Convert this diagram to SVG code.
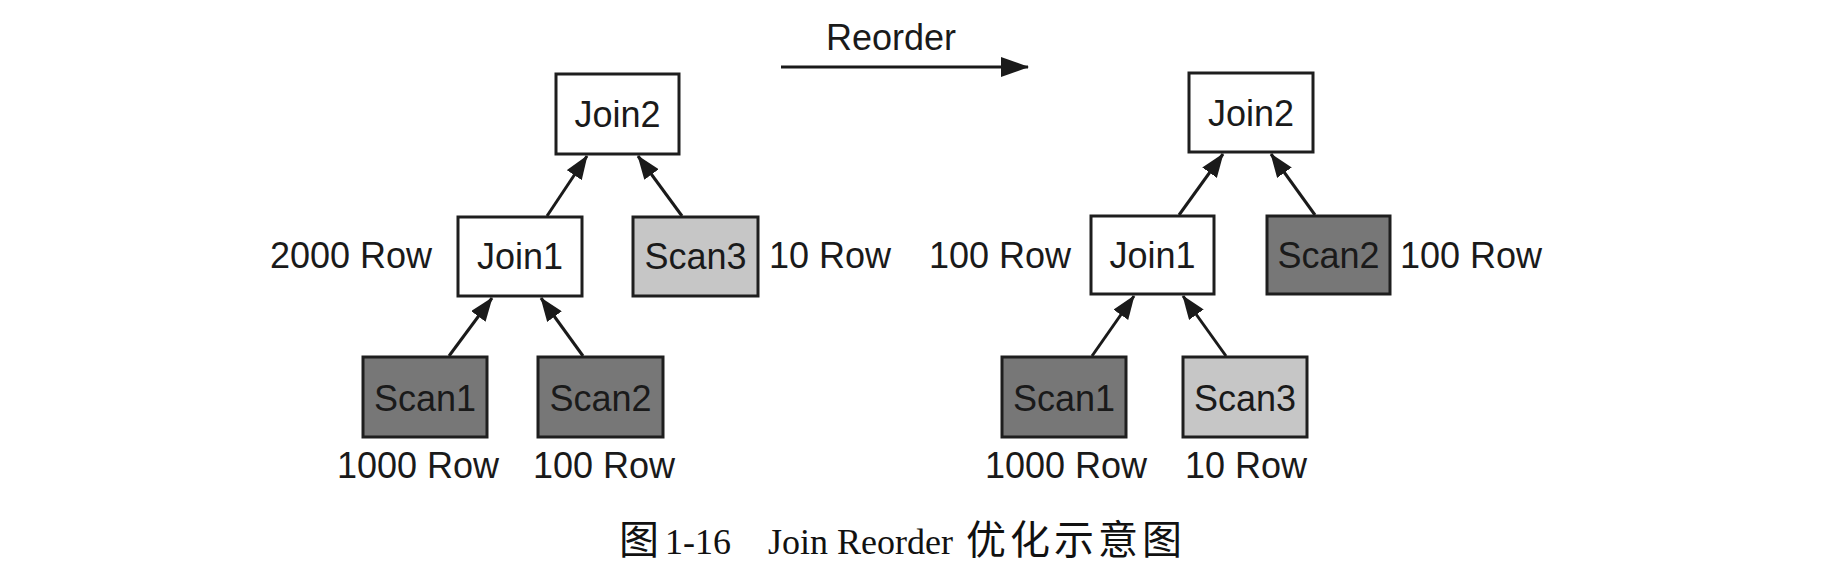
<svg xmlns="http://www.w3.org/2000/svg" width="1842" height="578" viewBox="0 0 1842 578">
<style>
.box{stroke:#1e1e1e;stroke-width:3}
.w{fill:#ffffff}
.d{fill:#777777}
.l{fill:#c6c6c6}
.t{font-family:"Liberation Sans",Arial,sans-serif;font-size:36px;fill:#1a1a1a}
.c{text-anchor:middle}
.e{stroke:#1a1a1a;stroke-width:3;fill:none;marker-end:url(#ah)}
.cap{font-family:"Liberation Serif","Noto Sans CJK SC",serif;font-size:36px;fill:#111}
.cjk{font-family:"Noto Sans CJK SC",sans-serif;font-size:40px}
</style>
<defs>
<marker id="ah" viewBox="0 0 24 18" refX="23" refY="9" markerWidth="24" markerHeight="18" markerUnits="userSpaceOnUse" orient="auto">
<path d="M0,0 L24,9 L0,18 z" fill="#1a1a1a"/>
</marker>
<marker id="ahr" viewBox="0 0 28 20" refX="27" refY="10" markerWidth="28" markerHeight="20" markerUnits="userSpaceOnUse" orient="auto">
<path d="M0,0 L28,10 L0,20 z" fill="#1a1a1a"/>
</marker>
</defs>
<rect width="1842" height="578" fill="#ffffff"/>

<g id="connectors">
<line class="e" x1="547" y1="216" x2="587" y2="156"/>
<line class="e" x1="682" y1="216" x2="638" y2="156"/>
<line class="e" x1="449" y1="356" x2="492" y2="298"/>
<line class="e" x1="583" y1="356" x2="541" y2="298"/>
<line class="e" x1="1179" y1="215" x2="1223" y2="154"/>
<line class="e" x1="1315" y1="215" x2="1271" y2="154"/>
<line class="e" x1="1092" y1="356" x2="1134" y2="296"/>
<line class="e" x1="1226" y1="356" x2="1183" y2="296"/>
<line x1="781" y1="67" x2="1028" y2="67" stroke="#1a1a1a" stroke-width="3" marker-end="url(#ahr)"/>
</g>

<text class="t" x="826" y="50" font-size="38">Reorder</text>

<g id="L-Join2"><rect class="box w" x="556" y="74" width="123" height="80"/><text class="t c" x="617.5" y="127">Join2</text></g>
<g id="L-Join1"><rect class="box w" x="458" y="217" width="124" height="79"/><text class="t c" x="520" y="269">Join1</text></g>
<g id="L-Scan3"><rect class="box l" x="633" y="217" width="125" height="79"/><text class="t c" x="695.5" y="269">Scan3</text></g>
<g id="L-Scan1"><rect class="box d" x="363" y="357" width="124" height="80"/><text class="t c" x="425" y="411">Scan1</text></g>
<g id="L-Scan2"><rect class="box d" x="538" y="357" width="125" height="80"/><text class="t c" x="600.5" y="411">Scan2</text></g>
<text class="t" x="270" y="268">2000 Row</text>
<text class="t" x="769" y="268">10 Row</text>
<text class="t" x="337" y="478">1000 Row</text>
<text class="t" x="533" y="478">100 Row</text>

<g id="R-Join2"><rect class="box w" x="1189" y="73" width="124" height="79"/><text class="t c" x="1251" y="126">Join2</text></g>
<g id="R-Join1"><rect class="box w" x="1091" y="216" width="123" height="78"/><text class="t c" x="1152.5" y="268">Join1</text></g>
<g id="R-Scan2"><rect class="box d" x="1267" y="216" width="123" height="78"/><text class="t c" x="1328.5" y="268">Scan2</text></g>
<g id="R-Scan1"><rect class="box d" x="1002" y="357" width="124" height="80"/><text class="t c" x="1064" y="411">Scan1</text></g>
<g id="R-Scan3"><rect class="box l" x="1183" y="357" width="124" height="80"/><text class="t c" x="1245" y="411">Scan3</text></g>
<text class="t" x="929" y="268">100 Row</text>
<text class="t" x="1400" y="268">100 Row</text>
<text class="t" x="985" y="478">1000 Row</text>
<text class="t" x="1185" y="478">10 Row</text>

<text class="cap" y="554"><tspan class="cjk" x="619">图</tspan><tspan x="665">1-16</tspan><tspan x="768">Join Reorder</tspan><tspan class="cjk" x="966" letter-spacing="4">优化示意图</tspan></text>
</svg>
